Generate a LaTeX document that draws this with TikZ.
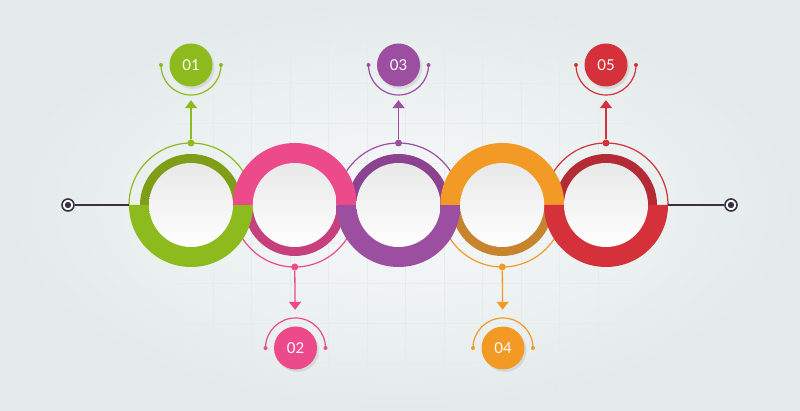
\documentclass[tikz,border=0pt]{standalone}
\usepackage{fontspec}
\setmainfont{Lato}
\usetikzlibrary{arrows.meta,shadows,calc}
\definecolor{cg}{HTML}{8DBA1C}
\definecolor{cgd}{HTML}{7F9E17}
\definecolor{cp}{HTML}{EC4A8B}
\definecolor{cpd}{HTML}{C7407E}
\definecolor{cu}{HTML}{9C4FA0}
\definecolor{cud}{HTML}{8B4290}
\definecolor{co}{HTML}{F39A26}
\definecolor{cod}{HTML}{C8832F}
\definecolor{cr}{HTML}{D5313A}
\definecolor{crd}{HTML}{B42A35}
\definecolor{tcol}{HTML}{3A3243}
\definecolor{bgin}{HTML}{F6F9F9}
\definecolor{bgout}{HTML}{E4EAEB}
\definecolor{wtop}{HTML}{E8E8E8}
\definecolor{gridc}{HTML}{E6ECEC}
\begin{document}
\begin{tikzpicture}[x=1pt,y=1pt,
  outl/.style={line width=1.2pt},
  dotn/.style={circle,inner sep=0pt,minimum size=7pt},
  numc/.style={circle,inner sep=0pt,minimum size=43pt,text=white,
    font=\fontsize{15}{15}\selectfont,
    drop shadow={shadow xshift=2pt,shadow yshift=-2.5pt,opacity=0.18}},
  arr/.style={line width=1.3pt,-{Triangle[width=12pt,length=8pt]}},
  target/.style={circle,draw=tcol,line width=1.6pt,fill=white,minimum size=12pt,inner sep=0pt},
  gridl/.style={gridc,line width=0.7pt}
]
\useasboundingbox (0,0) rectangle (800,411);
\shade[inner color=bgin,outer color=bgout] (0,0) rectangle (800,411);
% faint grid
\foreach \gx in {213,251.5,290,328.5,367,405.5,444,482.5,521,559.5,598}
  \draw[gridl] (\gx,18) -- (\gx,393);
\foreach \gy in {48,88,128,168,208,248,288,328,368}
  \draw[gridl] (178,\gy) -- (634,\gy);

% ring centres
\foreach \i/\x in {1/191,2/294.75,3/398.5,4/502.25,5/606}
  \coordinate (c\i) at (\x,206);

% step 1: darker inner half rings and thin outlines
\foreach \i/\c/\dk/\up in {1/cg/cgd/1,2/cp/cpd/0,3/cu/cud/1,4/co/cod/0,5/cr/crd/1}{
  \ifnum\up=1
    \fill[\dk] ($(c\i)+(51,0)$) arc[start angle=0,end angle=180,radius=51] -- cycle;
    \draw[\c,outl] ($(c\i)+(62,0)$) arc[start angle=0,end angle=180,radius=62];
  \else
    \fill[\dk] ($(c\i)+(51,0)$) arc[start angle=0,end angle=-180,radius=51] -- cycle;
    \draw[\c,outl] ($(c\i)+(62,0)$) arc[start angle=0,end angle=-180,radius=62];
  \fi
}
% step 2: thick half rings
\foreach \i/\c/\up in {1/cg/1,2/cp/0,3/cu/1,4/co/0,5/cr/1}{
  \ifnum\up=1
    \fill[\c] ($(c\i)+(62,0)$) arc[start angle=0,end angle=-180,radius=62] -- cycle;
  \else
    \fill[\c] ($(c\i)+(62,0)$) arc[start angle=0,end angle=180,radius=62] -- cycle;
  \fi
}
% step 3: white discs
\foreach \i in {1,...,5}
  \shade[top color=wtop,bottom color=white] (c\i) circle (42);

% side connectors
\coordinate (l1) at ($(c1)+(-62,0)$);
\coordinate (r5) at ($(c5)+(62,0)$);
\node[target] (tL) at (68,206) {};
\node[target] (tR) at (731,206) {};
\fill[tcol] (tL) circle (3.2);
\fill[tcol] (tR) circle (3.2);
\draw[tcol,line width=1.3pt] (tL) -- (l1);
\draw[tcol,line width=1.3pt] (r5) -- (tR);

% step 4: dots, arrows, number badges
\foreach \i/\x/\c/\up in {1/191/cg/1,2/295.5/cp/0,3/398.5/cu/1,4/503/co/0,5/606/cr/1}{
  \ifnum\up=1
    \node[dotn,fill=\c] (d\i) at ($(c\i)+(0,62)$) {};
    \node[numc,fill=\c] (n\i) at (\x,346) {0\i};
    \draw[\c,arr,shorten >=13.5pt] (d\i) -- (n\i);
    \draw[\c,outl] ($(n\i.center)+(-30,0)$) arc[start angle=180,end angle=360,radius=30];
  \else
    \node[dotn,fill=\c] (d\i) at ($(c\i)+(0,-62)$) {};
    \node[numc,fill=\c] (n\i) at (\x,63) {0\i};
    \draw[\c,arr,shorten >=16.5pt] (d\i) -- (n\i);
    \draw[\c,outl] ($(n\i.center)+(30,0)$) arc[start angle=0,end angle=180,radius=30];
  \fi
  \fill[\c] ($(n\i.center)+(-30,0)$) circle (2);
  \fill[\c] ($(n\i.center)+(30,0)$) circle (2);
}
\end{tikzpicture}
\end{document}
